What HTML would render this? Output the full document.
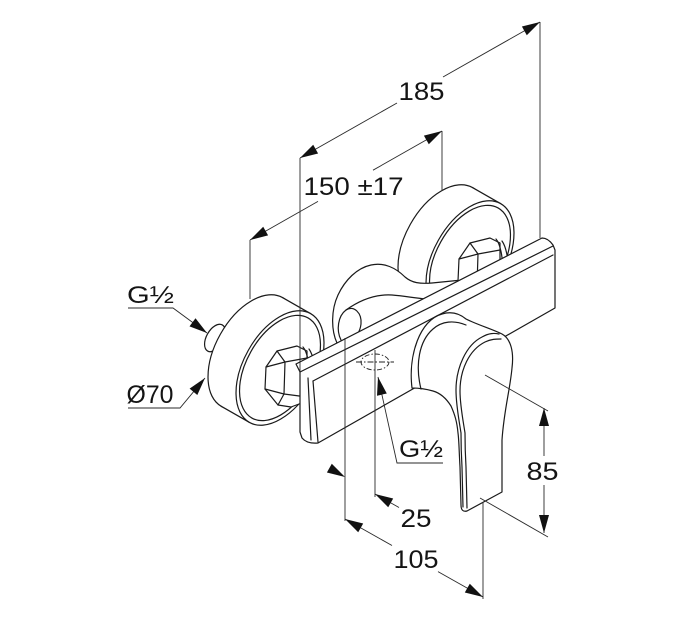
<!DOCTYPE html>
<html>
<head>
<meta charset="utf-8">
<style>
html,body{margin:0;padding:0;background:#fff;}
svg{display:block;}
text{font-family:"Liberation Sans",Arial,sans-serif;fill:#141414;}
</style>
</head>
<body>
<svg width="684" height="631" viewBox="0 0 684 631" xmlns="http://www.w3.org/2000/svg">
<rect width="684" height="631" fill="#fff"/>

<g fill="#fff" stroke="#1a1a1a" stroke-width="1.2" stroke-linejoin="round" stroke-linecap="round">

  <!-- RIGHT DISK -->
  <ellipse cx="442" cy="242" rx="36.3" ry="62.4" transform="rotate(29.3 442 242)"/>
  <polygon points="500.7,203.7 472.7,187.7 411.3,296.3 439.3,312.3" stroke="none"/>
  <line x1="500.7" y1="203.7" x2="472.7" y2="187.7"/>
  <line x1="411.3" y1="296.3" x2="439.3" y2="312.3"/>
  <ellipse cx="470" cy="258" rx="36.3" ry="62.4" transform="rotate(29.3 470 258)"/>
  <ellipse cx="470" cy="258" rx="33.4" ry="57.4" transform="rotate(29.3 470 258)"/>

  <!-- HOOK / middle curved part -->
  <path d="M337,343 C331,330 331,310 338,295 C345,280 357,268 371,265 C384,262 396,268 405,277 C412,283 420,284 432,283 L462,280 L462,300 L340,362 Z" stroke="none"/>
  <path fill="none" d="M337,343 C331,330 331,310 338,295 C345,280 357,268 371,265 C384,262 396,268 405,277 C412,283 420,284 432,283 L462,280"/>
  <path fill="none" d="M341,340 C336,330 338,316 346,310 C354,305 362,313 361,324 C360,333 355,338 350,341"/>
  <path fill="none" d="M346,310 C360,300 376,294 392,295 C405,296 414,298 426,299"/>

  <!-- RIGHT NUT -->
  <g transform="translate(193,-108)">
    <path d="M266,367 L277,351 L297,346 L307,351 L307,401 L291,407 L278,405 L265,389 Z"/>
    <path fill="none" d="M277,351 L285,362 L307,358 M266,367 L285,362 L284,394 L278,405 M265,389 L284,394 L307,397"/>
    <path fill="none" d="M303,347 C311,356 313,396 305,409 M309,349 C317,360 318,396 311,410"/>
  </g>

  <!-- LEFT NOZZLE (G1/2) -->
  <ellipse cx="215" cy="338" rx="8.5" ry="15" transform="rotate(29.3 215 338)"/>

  <!-- LEFT DISK -->
  <ellipse cx="252" cy="352" rx="36.3" ry="62.4" transform="rotate(29.3 252 352)"/>
  <polygon points="310.7,313.7 282.7,297.7 221.3,406.3 249.3,422.3" stroke="none"/>
  <line x1="310.7" y1="313.7" x2="282.7" y2="297.7"/>
  <line x1="221.3" y1="406.3" x2="249.3" y2="422.3"/>
  <ellipse cx="280" cy="368" rx="36.3" ry="62.4" transform="rotate(29.3 280 368)"/>
  <ellipse cx="280" cy="368" rx="33.4" ry="57.4" transform="rotate(29.3 280 368)"/>

  <!-- LEFT NUT -->
  <path d="M266,367 L277,351 L297,346 L307,351 L307,401 L291,407 L278,405 L265,389 Z"/>
  <path fill="none" d="M277,351 L285,362 L307,358 M266,367 L285,362 L284,394 L278,405 M265,389 L284,394 L307,397"/>
  <path fill="none" d="M303,347 C311,356 313,396 305,409 M309,349 C317,360 318,396 311,410"/>

  <!-- PLATE / BODY -->
  <path d="M296,364 L542,238 Q548,238 553,245 L555,250 L555,308 L318,443 Q307,444 302,438 L300,432 L300,372 Z"/>
  <path fill="none" d="M300,372 L553,246"/>
  <path fill="none" d="M313,381 L553,255"/>
  <path fill="none" d="M313,381 L318,442"/>
  <path fill="none" d="M308,378 L311,440"/>

  <!-- LEVER -->
  <path d="M412,388 C408,355 420,320 442,314 C452,311 460,314 466,319 C478,325 492,329 502,334 C511,339 514,352 512,368 C510,390 504,410 502,440 L502,492 L467,511 C463,512 461,510 461,505 L460,467 C459,450 459,440 458,433 C457,422 455,415 451,406 C446,398 440,393 433,391 C426,389 420,388 412,388 Z"/>
  <path fill="none" d="M421,389 C415,365 419,341 433,329 C442,321 454,320 466,325"/>
  <path fill="none" d="M463,507 L462,467 C461,450 461,440 461,433 C459,420 456,405 456,390 C456,368 466,345 482,337 C489,333 494,333 499,334"/>
  <path fill="none" d="M467,508 L466,467 C465,450 465,440 465,433 C463,420 460,405 460,391 C460,370 469,350 485,342 C491,339 496,339 501,339"/>
</g>

<!-- dash-dot outlet ellipse on body -->
<g fill="none" stroke="#222" stroke-width="0.9">
  <ellipse cx="375" cy="362" rx="14" ry="8" stroke-dasharray="5,2,1.5,2"/>
  <line x1="356" y1="362" x2="394" y2="362" stroke-dasharray="6,2,1.5,2"/>
</g>

<!-- DIMENSION LINES -->
<g fill="none" stroke="#2a2a2a" stroke-width="0.9">
  <!-- extension lines -->
  <line x1="300" y1="158" x2="300" y2="372"/>
  <line x1="540" y1="22" x2="540" y2="238"/>
  <line x1="250" y1="240" x2="250" y2="299"/>
  <line x1="442" y1="131" x2="442" y2="191"/>
  <line x1="345" y1="338" x2="345" y2="521"/>
  <line x1="375" y1="350" x2="375" y2="497"/>
  <line x1="483" y1="502" x2="483" y2="599"/>
  <line x1="485" y1="375" x2="548" y2="411"/>
  <line x1="480" y1="498" x2="548" y2="537"/>
  <!-- 185 -->
  <line x1="300" y1="158" x2="397" y2="103"/>
  <line x1="443" y1="77" x2="540" y2="22"/>
  <!-- 150 -->
  <line x1="250" y1="240" x2="318" y2="201.4"/>
  <line x1="373" y1="170.2" x2="442" y2="131"/>
  <!-- G1/2 left -->
  <polyline points="128,308 173,308 207,333"/>
  <!-- Ø70 -->
  <polyline points="128,408 180,408 205,378"/>
  <!-- G1/2 center -->
  <polyline points="378,377 397,463 443,463"/>
  <!-- 25 -->
  <line x1="375" y1="494" x2="399" y2="507.5"/>
  <!-- 105 -->
  <line x1="345" y1="519" x2="392" y2="545.5"/>
  <line x1="438" y1="571.6" x2="483" y2="597"/>
  <!-- 85 -->
  <line x1="544" y1="408" x2="544" y2="456"/>
  <line x1="544" y1="485" x2="544" y2="533"/>
</g>

<!-- ARROWHEADS -->
<g fill="#111" stroke="none">
  <polygon points="300,158 313.2,144.8 318.1,153.5"/>
  <polygon points="540,22 526.8,35.2 521.9,26.5"/>
  <polygon points="250,240 263.2,226.8 268.1,235.4"/>
  <polygon points="442,131 428.8,144.2 423.9,135.6"/>
  <polygon points="207,333 189.5,326.4 195.5,318.3"/>
  <polygon points="205,378 197.3,395.0 189.6,388.6"/>
  <polygon points="378,377 386.8,393.5 377.0,395.7"/>
  <polygon points="345,477 326.9,472.5 331.8,463.7"/>
  <polygon points="375,494 393.2,498.5 388.2,507.3"/>
  <polygon points="345,519 363.2,523.5 358.2,532.3"/>
  <polygon points="483,597 464.8,592.5 469.8,583.7"/>
  <polygon points="544,408 539,426 549,426"/>
  <polygon points="544,533 539,515 549,515"/>
</g>

<!-- LABELS -->
<text x="398.5" y="100" font-size="25" textLength="46" lengthAdjust="spacingAndGlyphs">185</text>
<text x="303.5" y="195" font-size="25" textLength="100" lengthAdjust="spacingAndGlyphs">150 ±17</text>
<text x="127" y="303" font-size="24" textLength="47" lengthAdjust="spacingAndGlyphs">G½</text>
<text x="126.5" y="403" font-size="25" textLength="47" lengthAdjust="spacingAndGlyphs">Ø70</text>
<text x="399" y="457" font-size="24" textLength="44" lengthAdjust="spacingAndGlyphs">G½</text>
<text x="400.5" y="527" font-size="25" textLength="31" lengthAdjust="spacingAndGlyphs">25</text>
<text x="393.5" y="568" font-size="25" textLength="45" lengthAdjust="spacingAndGlyphs">105</text>
<text x="526.5" y="480" font-size="25" textLength="32" lengthAdjust="spacingAndGlyphs">85</text>
</svg>
</body>
</html>
